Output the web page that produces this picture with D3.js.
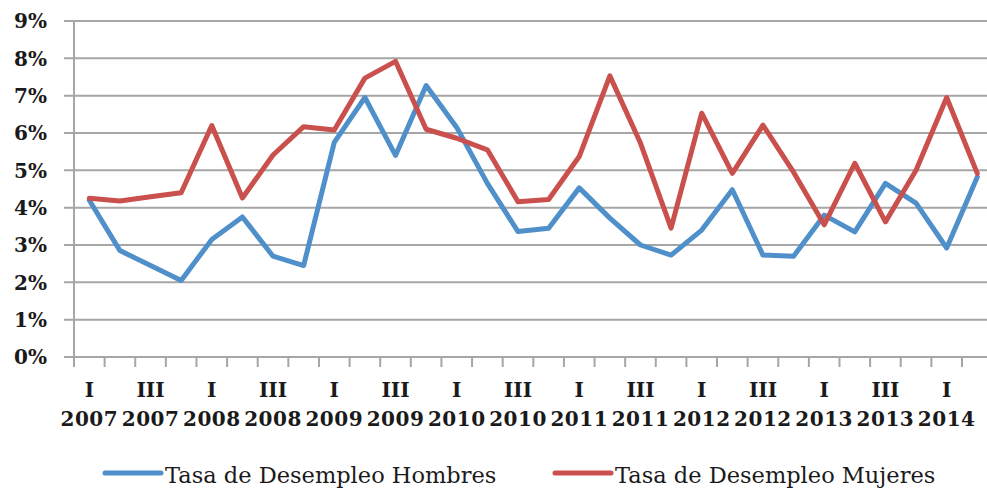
<!DOCTYPE html>
<html>
<head>
<meta charset="utf-8">
<script src="https://cdn.jsdelivr.net/npm/d3@7"></script>
<style>
  body { margin: 0; background: #fff; }
  .tick-label { font-family: "DejaVu Serif", serif; font-weight: bold; fill: #1a1a1a; }
</style>
</head>
<body>
<div id="chart"></div>
<script>
// quarter labels (roman numeral + year), one per category
var quarters = ["I","II","III","IV"];
var years = [2007,2008,2009,2010,2011,2012,2013,2014];
var categories = [];
years.forEach(function(y) {
  quarters.forEach(function(q) {
    if (categories.length < 30) categories.push(q + " " + y);
  });
});

var hombres = [4.2, 2.85, 2.45, 2.05, 3.15, 3.75, 2.7, 2.45, 5.75, 6.95,
  5.4, 7.27, 6.15, 4.65, 3.36, 3.45, 4.53, 3.72, 3.0, 2.73,
  3.4, 4.48, 2.73, 2.7, 3.8, 3.35, 4.65, 4.12, 2.92, 4.82];
var mujeres = [4.25, 4.18, 4.29, 4.4, 6.2, 4.26, 5.41, 6.17, 6.08, 7.47,
  7.92, 6.1, 5.86, 5.55, 4.16, 4.22, 5.37, 7.53, 5.73, 3.45,
  6.53, 4.92, 6.21, 4.95, 3.54, 5.19, 3.62, 5.0, 6.95, 4.92];

var yTicks = [0,1,2,3,4,5,6,7,8,9];
var seriesNames = ["Tasa de Desempleo Hombres", "Tasa de Desempleo Mujeres"];
var seriesColors = ["#4f8fca", "#c9504c"];

var svgWidth = 987;
var svgHeight = 495;

var svg = d3.select("#chart")
  .append("svg")
  .attr("width", svgWidth)
  .attr("height", svgHeight);

var x0 = 74, x1 = 74 + 30 * 30.62;
var xScale = d3.scaleBand()
  .domain(categories)
  .range([x0, x1]);

var yScale = d3.scaleLinear()
  .domain([0, 9])
  .range([357, 21]);

// horizontal gridlines
svg.append("g").selectAll("line")
  .data(yTicks)
  .enter()
  .append("line")
  .attr("x1", 64)
  .attr("x2", svgWidth)
  .attr("y1", d => yScale(d))
  .attr("y2", d => yScale(d))
  .attr("stroke", "#a6a6a6")
  .attr("stroke-width", 2);

// vertical axis line
svg.append("line")
  .attr("x1", x0).attr("x2", x0)
  .attr("y1", yScale(9)).attr("y2", yScale(0) + 10)
  .attr("stroke", "#a6a6a6")
  .attr("stroke-width", 2);

// x ticks at band edges
var tickPos = categories.map(c => xScale(c)).concat([x1]);
svg.append("g").selectAll("line")
  .data(tickPos)
  .enter()
  .append("line")
  .attr("x1", d => d).attr("x2", d => d)
  .attr("y1", yScale(0)).attr("y2", yScale(0) + 10)
  .attr("stroke", "#a6a6a6")
  .attr("stroke-width", 2);

// y labels
svg.append("g").selectAll("text")
  .data(yTicks)
  .enter()
  .append("text")
  .attr("class", "tick-label")
  .attr("x", 47)
  .attr("y", d => yScale(d))
  .attr("dy", "0.36em")
  .attr("text-anchor", "end")
  .attr("font-size", 20)
  .text(d => d + "%");

// x labels every other quarter
var xLab = svg.append("g").selectAll("g")
  .data(categories.filter((c, i) => i % 2 === 0))
  .enter()
  .append("g")
  .attr("transform", d => `translate(${xScale(d) + xScale.bandwidth() / 2}, 0)`);

xLab.append("text")
  .attr("class", "tick-label")
  .attr("y", 397)
  .attr("text-anchor", "middle")
  .attr("font-size", 20)
  .text(d => d.split(" ")[0]);

xLab.append("text")
  .attr("class", "tick-label")
  .attr("y", 426)
  .attr("text-anchor", "middle")
  .attr("font-size", 20)
  .attr("letter-spacing", 0.5)
  .text(d => d.split(" ")[1]);

// lines
var line = d3.line()
  .x((d, i) => xScale(categories[i]) + xScale.bandwidth() / 2)
  .y(d => yScale(d));

[hombres, mujeres].forEach(function(s, k) {
  svg.append("path")
    .datum(s)
    .attr("d", line)
    .attr("fill", "none")
    .attr("stroke", seriesColors[k])
    .attr("stroke-width", 5)
    .attr("stroke-linejoin", "round")
    .attr("stroke-linecap", "round");
});

// legend
var legendX = [105, 555];
var legend = svg.append("g").selectAll("g")
  .data(seriesNames)
  .enter()
  .append("g")
  .attr("transform", (d, i) => `translate(${legendX[i]}, 473)`);

legend.append("line")
  .attr("x1", 0).attr("x2", 56)
  .attr("stroke", (d, i) => seriesColors[i])
  .attr("stroke-width", 5)
  .attr("stroke-linecap", "round");

legend.append("text")
  .attr("x", 60)
  .attr("y", 10)
  .attr("font-family", "DejaVu Serif, serif")
  .attr("font-size", 22.5)
  .attr("fill", "#1a1a1a")
  .text(d => d);
</script>
</body>
</html>
